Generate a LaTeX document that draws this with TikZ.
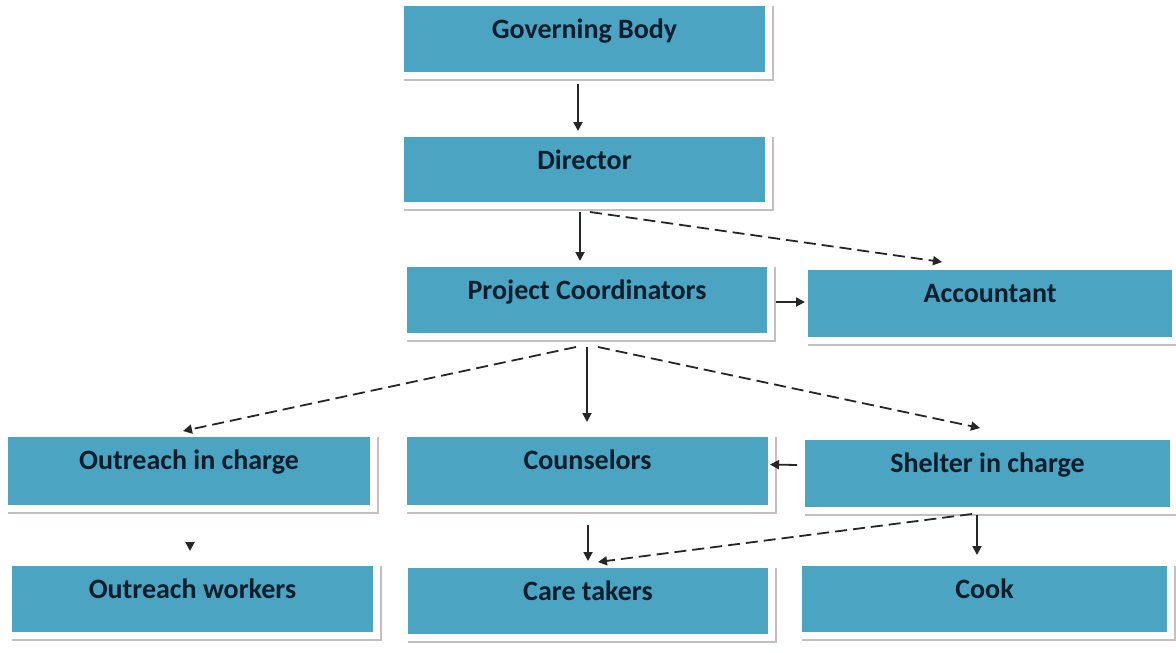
\documentclass[tikz,border=0pt]{standalone}
\usepackage{fontspec}
\setmainfont{Carlito}
\usetikzlibrary{arrows.meta}
\definecolor{boxfill}{RGB}{75,164,194}
\definecolor{txtcol}{RGB}{12,30,44}
\definecolor{shadowcol}{RGB}{196,190,190}
\tikzset{
  box/.style={fill=boxfill, draw=none, inner sep=0pt, outer sep=0pt, anchor=north west},
  lbl/.style={text=txtcol, font=\fontsize{28}{30}\selectfont\bfseries, inner sep=0pt, anchor=base},
  arr/.style={line width=1.8pt, draw=black!85, -{Triangle[length=9pt,width=9pt]}},
  darr/.style={arr, dash pattern=on 12pt off 6pt},
  shad/.style={draw=shadowcol, line width=1.6pt}
}
\newcommand{\orgbox}[6]{% name, x, y, w, h, text
  \node[box, minimum width=#4pt, minimum height=#5pt] (#1) at (#2,#3) {};
  \draw[shad] ([shift={(0,8)}]#1.south west) -- ([shift={(8,8)}]#1.south east) -- ([shift={(8,0)}]#1.north east);
  \node[lbl] (#1t) at ([yshift=-32pt]#1.north) {#6};
}
\begin{document}
\begin{tikzpicture}[x=1pt,y=-1pt]
\useasboundingbox[fill=white] (0,0) rectangle (1176,653);
\orgbox{gb}{404}{6}{361}{66}{Governing Body}
\orgbox{dir}{404}{137}{361}{65}{Director}
\orgbox{pc}{407}{267}{360}{66}{Project Coordinators}
\orgbox{acc}{808}{270}{364}{67}{Accountant}
\orgbox{oic}{8}{437}{362}{68}{Outreach in charge}
\orgbox{cou}{407}{437}{361}{68}{Counselors}
\orgbox{sic}{805}{440}{365}{67}{Shelter in charge}
\orgbox{ow}{12}{566}{361}{66}{Outreach workers}
\orgbox{ct}{408}{568}{360}{66}{Care takers}
\orgbox{cook}{802}{566}{365}{66}{Cook}
% connectors
\draw[arr] ([shift={(-6.5,12)}]gb.south) -- ([shift={(-6.5,-6)}]dir.north);
\draw[arr] ([shift={(-4.5,10)}]dir.south) -- ([shift={(-7,-6)}]pc.north);
\draw[darr] ([shift={(5.5,10)}]dir.south) -- ([shift={(-48,-8)}]acc.north);
\draw[arr] ([shift={(9,2)}]pc.east) -- ([shift={(-3,-1.5)}]acc.west);
\draw[darr] ([shift={(-11,14)}]pc.south) -- ([shift={(-6,-6)}]oic.north);
\draw[arr] ([shift={(0,14)}]pc.south) -- ([shift={(-0.5,-15)}]cou.north);
\draw[darr] ([shift={(11,14)}]pc.south) -- ([shift={(-7.5,-12)}]sic.north);
\draw[arr] ([shift={(-8,-8.5)}]sic.west) -- ([shift={(2,-6.5)}]cou.east);
\draw[arr] ([shift={(1,38)}]oic.south) -- ([shift={(-2.5,-15)}]ow.north);
\draw[arr] ([shift={(0.5,20)}]cou.south) -- ([shift={(0,-7)}]ct.north);
\draw[darr] ([shift={(-15.5,7)}]sic.south) -- ([shift={(10,-6)}]ct.north);
\draw[arr] ([shift={(-10.5,8)}]sic.south) -- ([shift={(-7.5,-11)}]cook.north);
\end{tikzpicture}
\end{document}
